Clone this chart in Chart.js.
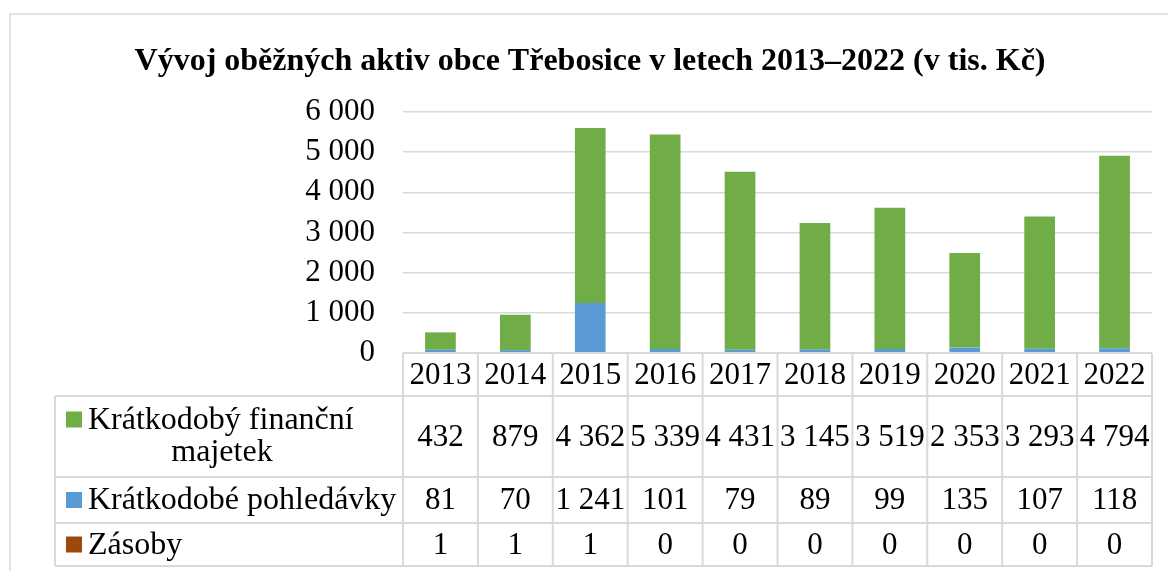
<!DOCTYPE html>
<html>
<head>
<meta charset="utf-8">
<script src="https://cdn.jsdelivr.net/npm/chart.js@4"></script>
<style>
  html, body { margin: 0; padding: 0; background: #fff; }
  #chart { display: block; }
</style>
</head>
<body>
<canvas id="chart" width="1168" height="571"></canvas>
<script>
var years = ["2013", "2014", "2015", "2016", "2017", "2018", "2019", "2020", "2021", "2022"];
var financniMajetek = [432, 879, 4362, 5339, 4431, 3145, 3519, 2353, 3293, 4794];
var pohledavky = [81, 70, 1241, 101, 79, 89, 99, 135, 107, 118];
var zasoby = [1, 1, 1, 0, 0, 0, 0, 0, 0, 0];
var yTicks = [0, 1000, 2000, 3000, 4000, 5000, 6000];

var titleText = "Vývoj oběžných aktiv obce Třebosice v letech 2013–2022 (v tis. Kč)";
var serif = "'Liberation Serif', 'Times New Roman', serif";
var gridColor = "#d9d9d9";

var fmt = function (n) {
    return String(n).replace(/\B(?=(\d{3})+(?!\d))/g, " ");
};

// rows of the data table, top to bottom
var tableRows = [
    { label: ["Krátkodobý finanční", "majetek"], color: "#70ad47", data: financniMajetek },
    { label: ["Krátkodobé pohledávky"], color: "#5b9bd5", data: pohledavky },
    { label: ["Zásoby"], color: "#9e480e", data: zasoby }
];

var tablePlugin = {
    id: "dataTable",
    afterDraw: function (chart) {
        var ctx = chart.ctx;
        var area = chart.chartArea;
        var x = chart.scales.x;
        var colW = (area.right - area.left) / years.length;
        var legendLeft = 55;
        var rowEdges = [area.bottom, 396, 477, 523, 566];

        ctx.save();
        // outer frame
        ctx.strokeStyle = gridColor;
        ctx.lineWidth = 1.5;
        ctx.beginPath();
        ctx.moveTo(10, 571);
        ctx.lineTo(10, 14);
        ctx.lineTo(1168, 14);
        ctx.stroke();

        // title
        ctx.fillStyle = "#000";
        ctx.font = "bold 32px " + serif;
        ctx.textAlign = "center";
        ctx.textBaseline = "middle";
        ctx.fillText(titleText, 590, 62);

        // table lines
        ctx.strokeStyle = gridColor;
        ctx.lineWidth = 2;
        ctx.beginPath();
        ctx.moveTo(area.left, rowEdges[0]);
        ctx.lineTo(area.right, rowEdges[0]);
        for (var r = 1; r < rowEdges.length; r++) {
            ctx.moveTo(legendLeft, rowEdges[r]);
            ctx.lineTo(area.right, rowEdges[r]);
        }
        for (var c = 0; c <= years.length; c++) {
            var cx = area.left + c * colW;
            ctx.moveTo(cx, rowEdges[0]);
            ctx.lineTo(cx, rowEdges[4]);
        }
        ctx.moveTo(legendLeft, rowEdges[1]);
        ctx.lineTo(legendLeft, rowEdges[4]);
        ctx.stroke();

        // header years and values
        ctx.fillStyle = "#000";
        ctx.font = "31px " + serif;
        ctx.textAlign = "center";
        ctx.textBaseline = "middle";
        years.forEach(function (y, i) {
            var px = x.getPixelForValue(i);
            ctx.fillText(y, px, (rowEdges[0] + rowEdges[1]) / 2 + 1);
            tableRows.forEach(function (row, j) {
                ctx.fillText(fmt(row.data[i]), px, (rowEdges[j + 1] + rowEdges[j + 2]) / 2 + 1);
            });
        });

        // legend cells
        ctx.font = "32px " + serif;
        tableRows.forEach(function (row, j) {
            var mid = (rowEdges[j + 1] + rowEdges[j + 2]) / 2 + 1;
            var firstY = row.label.length > 1 ? mid - 17 : mid;
            ctx.fillStyle = row.color;
            ctx.fillRect(66, firstY - 9, 16, 16);
            ctx.fillStyle = "#000";
            ctx.textAlign = "left";
            ctx.fillText(row.label[0], 88, firstY);
            if (row.label.length > 1) {
                ctx.textAlign = "center";
                ctx.fillText(row.label[1], 222, mid + 15);
            }
        });
        ctx.restore();
    }
};

var ctx = document.getElementById("chart");
var chart = new Chart(ctx, {
    type: "bar",
    data: {
        labels: years,
        datasets: [
            { label: "Zásoby", data: zasoby, backgroundColor: "#9e480e" },
            { label: "Krátkodobé pohledávky", data: pohledavky, backgroundColor: "#5b9bd5" },
            { label: "Krátkodobý finanční majetek", data: financniMajetek, backgroundColor: "#70ad47" }
        ]
    },
    options: {
        responsive: false,
        animation: false,
        layout: { padding: { left: 0, right: 16, top: 112, bottom: 218 } },
        datasets: { bar: { categoryPercentage: 1, barPercentage: 0.41 } },
        plugins: {
            legend: { display: false },
            title: { display: false },
            tooltip: { enabled: false }
        },
        scales: {
            x: {
                stacked: true,
                display: false
            },
            y: {
                stacked: true,
                min: 0,
                max: 6000,
                afterFit: function (scale) { scale.width = 403; },
                afterBuildTicks: function (scale) {
                    scale.ticks = yTicks.map(function (v) { return { value: v }; });
                },
                border: { display: false },
                grid: { color: gridColor, lineWidth: 1.5, drawTicks: false },
                ticks: {
                    autoSkip: false,
                    padding: 28,
                    color: "#000",
                    font: { family: serif, size: 31 },
                    callback: function (v) { return fmt(v); }
                }
            }
        }
    },
    plugins: [tablePlugin]
});
</script>
</body>
</html>
